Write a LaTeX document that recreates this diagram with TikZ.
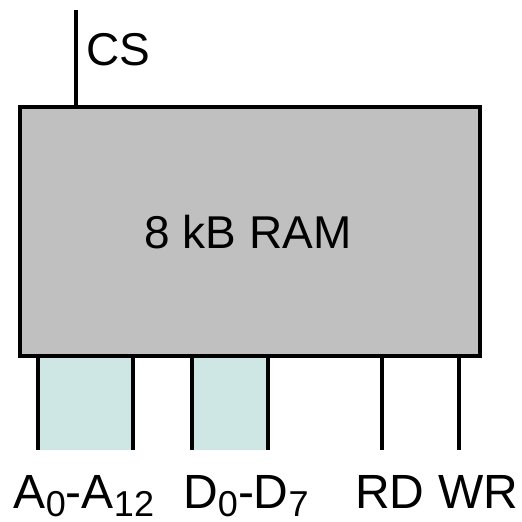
\documentclass[tikz,border=0pt]{standalone}
\usepackage{fontspec}
\setmainfont{Liberation Sans}
\definecolor{ramgray}{RGB}{192,192,192}
\definecolor{busfill}{RGB}{207,231,228}
\newcommand\pinsub[1]{\raisebox{-8pt}{\fontsize{36}{36}\selectfont #1}}
\tikzset{
  ramblock/.style={draw, fill=ramgray, line width=3.8pt, inner sep=0pt, anchor=north west, minimum width=460pt, minimum height=249pt},
  pinline/.style={line width=3.2pt},
  busarea/.style={fill=busfill},
  pinlabel/.style={anchor=base, inner sep=0pt, font=\fontsize{48}{48}\selectfont},
  bodytext/.style={inner sep=0pt, font=\fontsize{46}{46}\selectfont},
}
\begin{document}
\begin{tikzpicture}[x=1pt,y=-1pt]
\useasboundingbox (0,0) rectangle (522,522);
% bus fills
\fill[busarea] (38,354) rectangle (133,450);
\fill[busarea] (192,354) rectangle (268,450);
% pin ends
\coordinate (cstop) at (76,10);
\coordinate (a0top) at (38,354);  \coordinate (a0bot) at (38,450);
\coordinate (a1top) at (133,354); \coordinate (a1bot) at (133,450);
\coordinate (d0top) at (192,354); \coordinate (d0bot) at (192,450);
\coordinate (d1top) at (268,354); \coordinate (d1bot) at (268,450);
\coordinate (rdtop) at (382,354); \coordinate (rdbot) at (382,450);
\coordinate (wrtop) at (459,354); \coordinate (wrbot) at (459,450);
\coordinate (csbot) at (76,105);
\foreach \p in {a0,a1,d0,d1,rd,wr}{\draw[pinline] (\p top) -- (\p bot);}
\draw[pinline] (cstop) -- (csbot);
% RAM block
\node[ramblock] (ram) at (18,105) {};
\node[bodytext] (ramtext) at (248,232) {8 kB RAM};
\node[bodytext, anchor=base west] (cs) at (86,65) {CS};
% labels
\node[pinlabel] (alab) at (84,508) {A\pinsub{0}-A\pinsub{12}};
\node[pinlabel] (dlab) at (246,508) {D\pinsub{0}-D\pinsub{7}};
\node[pinlabel] (rdlab) at (390,508) {RD};
\node[pinlabel] (wrlab) at (478,508) {WR};
\end{tikzpicture}
\end{document}
